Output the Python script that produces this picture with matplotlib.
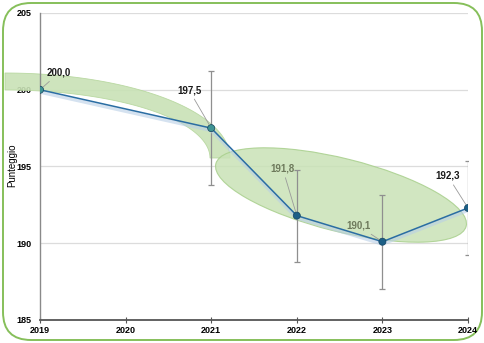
import numpy as np
import matplotlib
matplotlib.use("Agg")
import matplotlib.pyplot as plt
import matplotlib.transforms as mtransforms
from matplotlib.patches import Polygon, Ellipse, FancyBboxPatch

years = [2019, 2020, 2021, 2022, 2023, 2024]
anni = [2019, 2021, 2022, 2023, 2024]
punteggio = [200.0, 197.5, 191.8, 190.1, 192.3]
errore = [0.0, 3.7, 3.0, 3.05, 3.07]
etichette = ["200,0", "197,5", "191,8", "190,1", "192,3"]
col_etich = ["#1a1a1a", "#1a1a1a", "#6e7a5c", "#6e7a5c", "#1a1a1a"]
col_punti = ["#3f9494", "#3f9494", "#1c5f86", "#1c5f86", "#1c5f86"]
# label offsets in pixels (dx, dy)
off_etich = [(7, 17), (-10, 38), (-2, 47), (-12, 16), (-8, 32)]
ytick_vals = [185, 190, 195, 200, 205]

W, H = 485, 343
plt.rcParams['font.family'] = ['Liberation Sans Narrow', 'Liberation Sans', 'DejaVu Sans']
fig = plt.figure(figsize=(W / 100, H / 100), dpi=100)
fig.patch.set_facecolor("white")

# pixel coordinates (origin top-left) -> figure
pix = mtransforms.Affine2D().scale(1 / W, -1 / H).translate(0, 1) + fig.transFigure

cornice = FancyBboxPatch((3, 3), W - 6, H - 6, boxstyle="round,pad=0,rounding_size=28",
                         transform=pix, facecolor="white", edgecolor="#86bf5a", lw=1.4,
                         zorder=-5)
fig.patches.append(cornice)

ax = fig.add_axes([40 / W, 1 - 320 / H, (468 - 40) / W, (320 - 13) / H])
ax.set_facecolor("none")
ax.set_xlim(2019, 2024)
ax.set_ylim(185, 205)
ax.set_xticks(years)
ax.set_yticks(ytick_vals)
ax.set_xticklabels([str(y) for y in years], fontsize=6.5, fontweight="bold")
ax.set_yticklabels([str(v) for v in ytick_vals], fontsize=6.5, fontweight="bold")
ax.grid(axis="y", color="#dcdcdc", lw=0.9, zorder=0)
ax.set_axisbelow(True)
for s in ["top", "right"]:
    ax.spines[s].set_visible(False)
ax.spines["left"].set_color("#8a8a8a")
ax.spines["left"].set_linewidth(1.0)
ax.spines["bottom"].set_color("#555555")
ax.spines["bottom"].set_linewidth(1.3)
ax.tick_params(axis="x", direction="inout", length=5, color="#555555", pad=2)
ax.tick_params(axis="y", length=0, pad=6)
ax.set_ylabel("Punteggio", fontsize=7, family=["Liberation Sans", "DejaVu Sans"])
ax.yaxis.set_label_coords(-0.052, 0.505)

# green highlight band and ellipse
t = np.linspace(np.pi / 2, 0, 60)
esterno = np.c_[5 + 225 * np.cos(t), 158 - 85 * np.sin(t)]
interno = np.c_[5 + 205 * np.cos(t[::-1]), 158 - 68 * np.sin(t[::-1])]
banda = Polygon(np.vstack([esterno, interno]), closed=True, transform=pix,
                facecolor="#c9e2b6", edgecolor="#b5d69c", lw=0.6, alpha=0.9,
                clip_on=False, zorder=1.5)
ax.add_patch(banda)
ell = Ellipse((341, 195), 258, 73, angle=14, transform=pix,
              facecolor="#c9e2b6", edgecolor="#a8cf8c", lw=0.8, alpha=0.85,
              clip_on=False, zorder=1.5)
ax.add_patch(ell)

ax.errorbar(anni, punteggio, yerr=errore, fmt="none", ecolor="#8f8f8f",
            elinewidth=0.9, capsize=2, capthick=0.9, zorder=2)
ax.plot(anni, np.array(punteggio) - 0.15, color="#b9cfe6", lw=2.5, alpha=0.6, zorder=2.2)
ax.plot(anni, punteggio, color="#2a6da3", lw=1.1, zorder=3)
ax.scatter(anni, punteggio, s=26, c=col_punti, edgecolors="#13435f", linewidths=0.5, zorder=4)

for x, y, lab, c, (dx, dy) in zip(anni, punteggio, etichette, col_etich, off_etich):
    ha = "left" if dx > 0 else "right"
    ax.annotate(lab, xy=(x, y), xytext=(dx, dy), textcoords="offset pixels",
                ha=ha, va="center", fontsize=7, fontweight="bold", color=c,
                arrowprops=dict(arrowstyle="-", color="#9a9a9a", lw=0.6,
                                shrinkA=1, shrinkB=3), zorder=5)

fig.savefig("out.png", dpi=100)
